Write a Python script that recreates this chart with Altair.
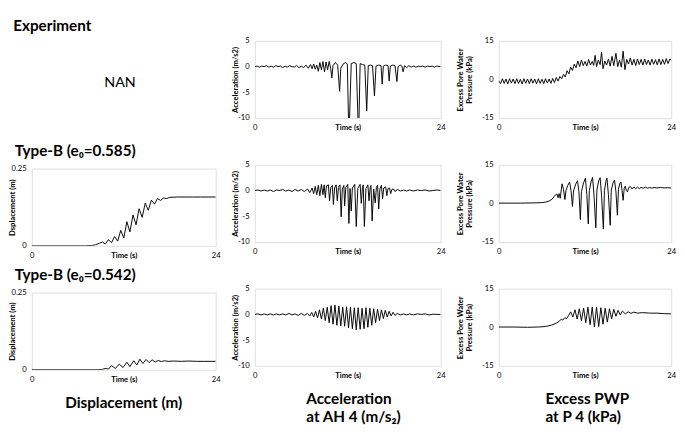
import altair as alt
import pandas as pd

FONT = "Lato"

# ---------------- data ----------------
# Experiment - acceleration at AH4
exp_acc_t = [0.0, 0.3, 0.6, 0.9, 1.2, 1.5, 1.8, 2.1, 2.4, 2.7, 3.0, 3.3, 3.6, 3.9, 4.2, 4.5, 4.8, 5.1, 5.4, 5.7,
             6.0, 6.3, 6.6, 6.9, 7.2, 7.4, 7.6, 7.8, 8.0, 8.2, 8.4, 8.6, 8.8, 9.0, 9.2, 9.4, 9.6, 9.8, 9.95, 10.1,
             10.4, 10.7, 10.95, 11.1, 11.4, 11.7, 11.95, 12.15, 12.45, 12.8, 13.1, 13.4, 13.6, 13.9, 14.2, 14.45,
             14.65, 14.9, 15.2, 15.45, 15.65, 16.0, 16.3, 16.45, 16.6, 16.9, 17.2, 17.35, 17.5, 17.8, 18.1, 18.35,
             18.5, 18.8, 19.0, 19.15, 19.35, 19.6, 19.9, 20.2, 20.5, 20.8, 21.1, 21.4, 21.7, 22.0, 22.3, 22.6,
             22.9, 23.2, 23.5, 24.0]
exp_acc_v = [0.0, 0.1, -0.1, 0.1, 0.0, 0.2, -0.1, 0.1, -0.1, 0.2, 0.0, 0.1, -0.2, 0.1, -0.1, 0.2, 0.0, -0.1, 0.2, -0.2,
             0.1, -0.2, 0.3, -0.3, 0.4, -0.4, 0.5, -0.5, 0.3, -0.9, 0.8, -0.6, 1.0, -1.0, 0.9, -0.6, 1.0, -0.4, -2.2, 0.2,
             0.8, 0.3, -4.8, -0.3, 0.5, 0.8, 0.5, -14.0, 0.6, 0.8, 0.6, -14.0, 0.6, 0.4, 0.3, -8.6,
             0.2, 0.3, 0.2, -5.7, 0.1, 0.3, 0.2, -3.4, 0.1, 0.3, 0.2, -2.8, 0.1, 0.3, 0.2, -2.9,
             0.0, 0.3, 0.1, -1.0, 0.2, -0.2, 0.2, -0.1, 0.1, -0.1, 0.1, 0.0, 0.1, -0.1, 0.1, 0.0,
             0.1, -0.1, 0.1, 0.0]

# Experiment - excess PWP at P4
exp_pwp_t = [0, 0.25, 0.5, 0.75, 1.0, 1.25, 1.5, 1.75, 2.0, 2.25, 2.5, 2.75, 3.0, 3.25, 3.5, 3.75, 4.0, 4.25, 4.5,
             4.75, 5.0, 5.25, 5.5, 5.75, 6.0, 6.25, 6.5, 6.75, 7.0, 7.25, 7.5, 7.75, 8.0, 8.25, 8.5,
             8.75, 9.0, 9.25, 9.5, 9.75, 10.0, 10.25, 10.5, 10.75, 11.0, 11.25, 11.5, 11.75, 12.0, 12.25, 12.5,
             12.75, 13.0, 13.2, 13.4, 13.6, 13.85, 14.1, 14.3, 14.5, 14.75, 15.0, 15.25, 15.5, 15.75, 16.0, 16.3,
             16.55, 16.8, 17.05, 17.3, 17.55, 17.8, 18.05, 18.3, 18.55, 18.8, 19.05, 19.3, 19.55, 19.8, 20.05,
             20.3, 20.55, 20.8, 21.05, 21.3, 21.55, 21.8, 22.05, 22.3, 22.55, 22.8, 23.05, 23.3, 23.55, 23.8, 24.0]
exp_pwp_v = [-0.5, -1.6, 0.3, -1.5, 0.2, -1.7, 0.3, -1.4, 0.2, -1.6, 0.3, -1.5, 0.1, -1.7, 0.3, -1.5, 0.2, -1.6, 0.3,
             -1.4, 0.2, -1.7, 0.3, -1.5, 0.1, -1.6, 0.3, -1.4, 0.2, -1.5, 0.4, -1.2, 0.8, -0.6, 1.2,
             0.3, 2.0, 1.0, 3.4, 2.2, 4.8, 3.5, 6.0, 4.6, 7.2, 5.0, 7.6, 5.4, 7.0, 5.2, 7.8,
             5.6, 7.0, 5.5, 9.4, 5.0, 7.6, 5.8, 10.6, 4.2, 7.2, 5.6, 8.0, 5.2, 9.0, 5.4, 10.2,
             5.0, 7.6, 4.8, 11.0, 3.8, 7.8, 6.0, 8.4, 5.6, 7.8, 5.4, 8.0, 5.8, 7.8, 5.6,
             7.9, 5.8, 7.6, 5.6, 7.9, 5.9, 7.7, 5.7, 8.0, 5.8, 7.8, 5.9, 8.1, 6.2, 8.0, 7.4]

# Type-B (e0=0.585)
b1_disp_t = [0, 7.0, 7.8, 8.3, 8.8, 9.2, 9.6, 10.0, 10.4, 10.8, 11.2, 11.6, 12.0, 12.4, 12.8, 13.2, 13.6, 14.0,
             14.4, 14.8, 15.2, 15.6, 16.0, 16.4, 16.8, 17.2, 17.6, 18.0, 19.0, 20.0, 21.0, 22.0, 23.0, 24.0]
b1_disp_v = [0, 0, 0.001, 0.003, 0.008, 0.012, 0.006, 0.02, 0.01, 0.03, 0.015, 0.05, 0.025, 0.078, 0.045, 0.1,
             0.068, 0.12, 0.092, 0.138, 0.115, 0.148, 0.135, 0.153, 0.147, 0.155, 0.153, 0.157, 0.158, 0.158,
             0.158, 0.158, 0.158, 0.158]

b1_acc_t = [0, 0.4, 0.8, 1.2, 1.6, 2.0, 2.4, 2.8, 3.2, 3.6, 4.0, 4.4, 4.8, 5.2, 5.6, 6.0, 6.4, 6.8, 7.1, 7.4, 7.6,
            7.8, 8.0, 8.2, 8.4, 8.6, 8.8, 8.95, 9.1, 9.25, 9.5, 9.65, 9.8, 10.0, 10.15, 10.3, 10.5, 10.65, 10.8,
            11.0, 11.15, 11.3, 11.5, 11.6, 11.75, 12.0, 12.15, 12.3, 12.45, 12.6, 12.9, 13.1, 13.3, 13.6, 13.75,
            13.9, 14.0, 14.15, 14.35, 14.6, 14.75, 14.9, 15.0, 15.15, 15.35, 15.55, 15.7, 15.85, 16.0, 16.15,
            16.35, 16.5, 16.65, 16.9, 17.05, 17.2, 17.4, 17.55, 17.7, 17.9, 18.1, 18.4, 18.8, 19.2, 19.6, 20.0,
            20.5, 21.0, 21.5, 22.0, 22.5, 23.0, 23.5, 24.0]
b1_acc_v = [0, 0.1, -0.1, 0.1, -0.1, 0.1, -0.2, 0.1, 0.0, 0.2, -0.1, 0.1, -0.2, 0.2, -0.1, 0.2, -0.2, 0.3, -0.4, 0.5,
            -0.6, 0.8, -0.8, 1.0, -1.0, 1.2, -0.8, 1.1, -1.4, 0.9, 1.1, -2.0, 0.6, 1.0, -2.7, 0.5, 1.1, -2.0, 0.6,
            1.1, -5.1, 0.3, 1.0, -3.0, 0.6, 1.2, -6.4, 0.4, -4.0, 0.5, 1.2, -7.0, 0.4, 1.2, -2.5,
            0.6, 1.1, -7.0, 0.4, 1.1, -2.0, 0.6, 1.0, -5.9, 0.3, -2.4, 0.6, 1.0, -3.6, 0.3,
            1.0, -1.6, 0.5, 0.7, -1.0, 0.4, 0.5, -0.6, 0.2, 0.3, -0.2, 0.2, -0.1, 0.1, -0.1, 0.1,
            -0.1, 0.1, 0.0, 0.1, -0.1, 0.0, 0.1, 0.0]

b1_pwp_t = [0, 3.0, 5.0, 6.0, 6.5, 7.0, 7.4, 7.7, 7.9, 8.1, 8.25, 8.4, 8.55, 8.8, 9.0, 9.2, 9.35, 9.6, 9.85, 10.05,
            10.25, 10.4, 10.7, 10.95, 11.15, 11.35, 11.5, 11.8, 12.05, 12.25, 12.45, 12.6, 12.85, 13.05, 13.25,
            13.5, 13.65, 13.9, 14.1, 14.3, 14.55, 14.7, 14.9, 15.05, 15.25, 15.5, 15.65, 15.9, 16.1, 16.3, 16.5,
            16.65, 16.85, 17.0, 17.15, 17.3, 17.45, 17.6, 17.75, 17.9, 18.1, 18.3, 18.55, 18.8, 19.05, 19.3,
            19.55, 19.8, 20.1, 20.4, 20.7, 21.0, 21.3, 21.6, 22.0, 22.5, 23.0, 23.5, 24.0]
b1_pwp_v = [0.1, 0.1, 0.2, 0.3, 0.5, 0.9, 1.6, 2.6, 3.3, 3.6, 2.2, 3.8, 2.0, 7.6, 5.5, 1.5, 5.0, 7.0, 8.3, 5.0,
            -1.2, 4.8, 7.5, 8.8, 4.5, -6.3, 4.6, 8.0, 9.8, 3.5, -8.0, 5.0, 8.5, 10.1, 3.0,
            -9.5, 5.2, 8.8, 10.0, 3.0, -10.0, 5.0, 8.5, 9.8, 3.5, -8.5, 5.2, 8.0, 9.1, 4.5, -4.6,
            5.5, 7.8, 8.3, 5.0, 1.2, 5.8, 6.7, 5.0, 4.5, 6.2, 6.6, 5.6, 6.4, 5.7, 6.3,
            5.8, 6.2, 5.9, 6.3, 5.9, 6.2, 5.9, 6.2, 6.0, 6.2, 6.0, 6.1, 6.0]

# Type-B (e0=0.542)
b2_disp_t = [0, 8.5, 9.2, 9.6, 10.0, 10.4, 10.9, 11.4, 11.9, 12.4, 12.8, 13.3, 13.7, 14.1, 14.5, 14.9, 15.3, 15.7,
             16.1, 16.5, 16.9, 17.3, 17.8, 18.5, 19.5, 20.5, 21.5, 22.5, 23.5, 24.0]
b2_disp_v = [0, 0, 0.001, 0.004, 0.002, 0.013, 0.004, 0.018, 0.007, 0.024, 0.01, 0.029, 0.015, 0.034, 0.02, 0.033,
             0.023, 0.032, 0.025, 0.03, 0.026, 0.029, 0.027, 0.028, 0.027, 0.028, 0.027, 0.027, 0.027, 0.027]

b2_acc_t = [0, 0.4, 0.8, 1.2, 1.6, 2.0, 2.4, 2.8, 3.2, 3.6, 4.0, 4.4, 4.8, 5.2, 5.6, 6.0, 6.4, 6.8, 7.1, 7.35, 7.6,
            7.85, 8.1, 8.35, 8.6, 8.85, 9.1, 9.35, 9.6, 9.85, 10.1, 10.35, 10.6, 10.85, 11.1, 11.35, 11.6, 11.85,
            12.1, 12.35, 12.6, 12.85, 13.1, 13.35, 13.6, 13.85, 14.1, 14.35, 14.6, 14.85, 15.1, 15.35, 15.6,
            15.85, 16.1, 16.35, 16.6, 16.85, 17.1, 17.35, 17.6, 17.85, 18.1, 18.4, 18.8, 19.2, 19.6, 20.0, 20.5,
            21.0, 21.5, 22.0, 22.5, 23.0, 23.5, 24.0]
b2_acc_v = [0, 0.1, -0.1, 0.1, -0.1, 0.1, -0.1, 0.1, -0.1, 0.1, -0.1, 0.2, -0.1, 0.1, -0.2, 0.2, -0.2, 0.2, -0.3, 0.4,
            -0.5, 0.6, -0.7, 0.9, -0.9, 1.2, -1.2, 1.4, -1.6, 1.7, -1.9, 1.8, -2.1, 1.6, -2.2, 1.4, -2.3, 1.5,
            -2.6, 1.4, -2.8, 1.3, -3.0, 1.3, -2.9, 1.2, -2.8, 1.3, -2.5, 1.2, -2.1, 1.1, -1.6,
            1.0, -1.2, 0.9, -0.8, 0.8, -0.5, 0.6, -0.3, 0.4, -0.2, 0.2, -0.1, 0.1, -0.1, 0.1, -0.1,
            0.1, 0.0, 0.1, -0.1, 0.05, 0.0, 0.0]

b2_pwp_t = [0, 2.0, 4.0, 5.5, 6.5, 7.3, 8.0, 8.4, 8.7, 8.9, 9.2, 9.4, 9.7, 10.0, 10.3, 10.6, 10.9, 11.2, 11.5, 11.8,
            12.1, 12.4, 12.7, 13.0, 13.3, 13.6, 13.9, 14.2, 14.5, 14.8, 15.1, 15.4, 15.7, 16.0, 16.3, 16.6,
            16.9, 17.2, 17.6, 18.0, 18.4, 18.8, 19.3, 20.0, 21.0, 22.0, 23.0, 24.0]
b2_pwp_v = [0.1, 0.1, 0.0, 0.1, 0.3, 0.8, 1.6, 2.3, 3.2, 2.8, 3.8, 3.3, 4.5, 6.0, 4.0, 6.8, 3.2, 7.2, 2.5, 7.5,
            1.8, 7.8, 1.0, 7.8, 0.2, 7.8, 0.3, 7.6, 1.2, 7.4, 2.0, 7.2, 3.3, 7.0, 4.3, 6.6,
            4.8, 6.3, 5.2, 6.0, 5.4, 5.9, 5.5, 5.7, 5.5, 5.5, 5.3, 5.2]

# text
row_titles = ["Experiment", "Type-B (e\u2080=0.585)", "Type-B (e\u2080=0.542)"]
col_titles = ["Displacement (m)", ["Acceleration", "at AH 4 (m/s\u2082)"], ["Excess PWP", "at P 4 (kPa)"]]
x_title = "Time (s)"
disp_titles = ["Dsplacement (m)", "Displacement (m)"]
acc_title = "Acceleration (m/s2)"
pwp_title = ["Excess Pore Water", "Pressure (kPa)"]
missing_label = ["NAN"]

# ---------------- layout constants ----------------
H = 81
LABEL_OVERHANG = 4          # half height of the top y-axis label in the other columns
W1, W2, W3 = 193, 195, 181
VSPACE = 49
S12 = 10
S23 = 10


def x_axis():
    return alt.Axis(values=[0, 24], title=x_title, titleY=6, titleBaseline="top",
                    labelFlush=False, ticks=False, tickSize=0, domain=False, grid=False,
                    labelPadding=6, labelFont=FONT, labelFontSize=8, labelColor="black",
                    titleFont=FONT, titleFontSize=8, titleFontWeight="bold", titleColor="black")


def y_axis(values, title, title_x):
    return alt.Axis(values=values, title=title, titleX=title_x, titleBaseline="bottom",
                    titleLineHeight=9, labelExpr="'' + datum.value",
                    ticks=False, tickSize=0, domain=False, grid=False,
                    labelPadding=6, labelFont=FONT, labelFontSize=8, labelColor="black",
                    titleFont=FONT, titleFontSize=8, titleFontWeight="bold", titleColor="black")


def panel(t, v, w, ydom, yvals, ytitle, title_x, title=None):
    df = pd.DataFrame({"t": t, "v": v})
    ch = alt.Chart(df).mark_line(color="black", strokeWidth=1, clip=True).encode(
        x=alt.X("t:Q", scale=alt.Scale(domain=[0, 24], nice=False, zero=False), axis=x_axis()),
        y=alt.Y("v:Q", scale=alt.Scale(domain=ydom, nice=False, zero=False),
                axis=y_axis(yvals, ytitle, title_x)),
    ).properties(width=w, height=H)
    if title is not None:
        ch = ch.properties(title=title)
    return ch


def row_title(text, offset, frame="group", dx=-18):
    return alt.TitleParams(text=text, anchor="start", frame=frame, dx=dx, offset=offset,
                           font=FONT, fontSize=16, fontWeight="bold", color="black")


def col_title(text, dx):
    return alt.TitleParams(text=text, orient="bottom", anchor="start", frame="group", dx=dx, offset=13,
                           font=FONT, fontSize=16, fontWeight="bold", color="black", lineHeight=18)


ACC_DOM, ACC_VALS = [-10, 5], [-10, -5, 0, 5]
PWP_DOM, PWP_VALS = [-15, 15], [-15, 0, 15]
DSP_DOM, DSP_VALS = [0, 0.25], [0, 0.25]
ACC_TX, PWP_TX, DSP_TX = -16, -36, -16

# empty "NAN" cell of the experiment row (no panel frame in the reference)
nan_chart = alt.Chart(pd.DataFrame({"label": missing_label})).mark_text(
    font=FONT, fontSize=15, color="black", dx=-4, dy=1
).encode(text="label:N").properties(
    width=W1, height=H + LABEL_OVERHANG, view=alt.ViewBackground(stroke="transparent"))

col1 = alt.vconcat(
    nan_chart,
    panel(b1_disp_t, b1_disp_v, W1, DSP_DOM, DSP_VALS, disp_titles[0], DSP_TX, row_title(row_titles[1], 6)),
    panel(b2_disp_t, b2_disp_v, W1, DSP_DOM, DSP_VALS, disp_titles[1], DSP_TX, row_title(row_titles[2], 6)),
    spacing=VSPACE, bounds="flush", title=col_title(col_titles[0], 35))

col2 = alt.vconcat(
    panel(exp_acc_t, exp_acc_v, W2, ACC_DOM, ACC_VALS, acc_title, ACC_TX),
    panel(b1_acc_t, b1_acc_v, W2, ACC_DOM, ACC_VALS, acc_title, ACC_TX),
    panel(b2_acc_t, b2_acc_v, W2, ACC_DOM, ACC_VALS, acc_title, ACC_TX),
    spacing=VSPACE, bounds="flush", title=col_title(col_titles[1], 54))

col3 = alt.vconcat(
    panel(exp_pwp_t, exp_pwp_v, W3, PWP_DOM, PWP_VALS, pwp_title, PWP_TX),
    panel(b1_pwp_t, b1_pwp_v, W3, PWP_DOM, PWP_VALS, pwp_title, PWP_TX),
    panel(b2_pwp_t, b2_pwp_v, W3, PWP_DOM, PWP_VALS, pwp_title, PWP_TX),
    spacing=VSPACE, bounds="flush", title=col_title(col_titles[2], 49))

chart = alt.hconcat(
    col1, alt.hconcat(col2, col3, spacing=S23), spacing=S12,
    title=row_title(row_titles[0], 3, frame="bounds", dx=5),
).properties(padding=0).configure_view(stroke="black", strokeWidth=1).configure(background="white")

chart.save("out.html", embed_options={"renderer": "svg", "actions": False})
